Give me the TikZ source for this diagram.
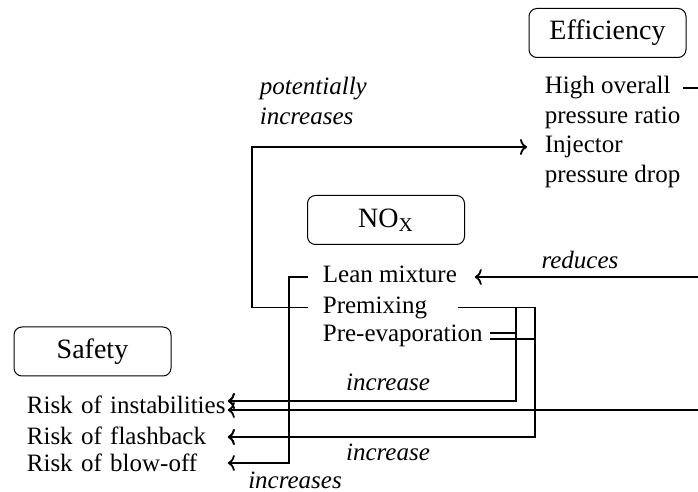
\documentclass[tikz,border=0pt]{standalone}
\usepackage{fontspec}
\setmainfont{Liberation Serif}
\usepackage{tikz}
\usetikzlibrary{arrows.meta}

\begin{document}
\begin{tikzpicture}[x=0.5pt, y=-0.5pt, line width=0.9pt, >={To[length=3.5pt,width=8pt]},
    hdr/.style={draw, line width=0.5pt, rounded corners=4pt, minimum width=78.5pt,
        minimum height=24.5pt, font=\fontsize{14}{17}\selectfont},
    itm/.style={anchor=west, inner sep=0pt, text height=8.75pt, text depth=3.1pt,
        font=\fontsize{12.5}{15}\selectfont},
    risk/.style={itm, text width=100pt, align=left},
    lbl/.style={inner sep=0pt, font=\fontsize{12.5}{15}\selectfont\itshape}]
            \useasboundingbox (0,0) rectangle (698,492);

            \node[hdr] (eff) at (607.5,33) {Efficiency};
            \node[hdr] (nox) at (386,220) {NO\textsubscript{X}};
            \node[hdr] (safety) at (92.5,351.5) {Safety};

            \node[itm] (high) at (544,88) {High overall};
            \node[itm] (ratio) at (544,118) {pressure ratio};
            \node[itm] (inject) at (544,147) {Injector};
            \node[itm] (drop) at (544,176.5) {pressure drop};

            \node[itm] (lean) at (322,277) {Lean mixture};
            \node[itm] (premix) at (322,307.5) {Premixing};
            \node[itm] (preevap) at (322,336) {Pre-evaporation};

            \node[risk] (instab) at (26,407.5) {Risk of instabilities};
            \node[risk] (flash) at (26,439) {Risk of flashback};
            \node[risk] (blow) at (26,466) {Risk of blow-off};

            \node[lbl, text width=60pt, align=left, anchor=base west] (potlbl) at (259,94.5) {potentially\\increases};
            \node[lbl, anchor=base] (redlbl) at (580,269) {reduces};
            \node[lbl, anchor=base] (inclbl) at (388,391) {increase};
            \node[lbl, anchor=base] (inclblb) at (388,461) {increase};
            \node[lbl, anchor=base] (incslbl) at (295,489) {increases};

            \coordinate (highout) at (698,88);
            \coordinate (redin) at (698,277);
            \coordinate (instin) at (698,410);

            \draw ([xshift=6pt]high.east) -- (highout);
            \draw[->] ([xshift=-7pt]premix.west) -- ++(-56,0) |- ([xshift=-8.5pt]inject.west);
            \draw[->] (redin) -- ([xshift=8.5pt]lean.east);
            \draw[->] ([xshift=-7pt]lean.west) -- ++(-19,0) |- ([yshift=1.5pt]blow.east);
            \draw[->] ([xshift=15pt]premix.east) -- ++(77,0) |- ([yshift=1pt]flash.east);
            \draw[->] ([xshift=15pt]premix.east) -- ++(58,0) |- ([yshift=3.25pt]instab.east);
            \draw[->] ([xshift=3.5pt,yshift=1.5pt]preevap.east) -- ++(26,0) |- ([yshift=3.25pt]instab.east);
            \draw[->] ([xshift=3.5pt,yshift=-1.5pt]preevap.east) -- ++(45,0) |- ([yshift=1pt]flash.east);
            \draw[->] (instin) -- ([yshift=-1.25pt]instab.east);
        \end{tikzpicture}
\end{document}
